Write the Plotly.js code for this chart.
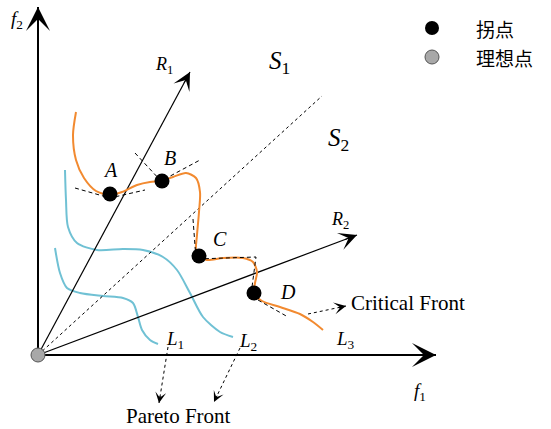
<!DOCTYPE html>
<html><head><meta charset="utf-8">
<script src="https://cdn.plot.ly/plotly-3.0.1.min.js"></script>
<style>html,body{margin:0;padding:0;background:#fff}</style>
</head><body><div id="chart" style="width:551px;height:429px"></div>
<script>
// ---- data (schematic coordinates: origin = ideal point) ----
const l3X = [38,35,38,46,58,72,84,99,112,123,135,148,158,162,161,159,158,161,169,185,205,215,219,217,216,224,242,262,275,285];
const l3Y = [243,220,195,177,164,160,163,170,173,174,178,182,177,163,143,120,105,99,95,97,97,93,83,72,62,54,48,41,33,25];
const l2X = [27,28,30,39,59,85,105,125,139,152,165,182,195];
const l2Y = [185,155,128,112,105,106,105,98,85,62,38,23,18];
const l1X = [17,22,29,42,65,85,95,100,104,112,120];
const l1Y = [107,82,67,62,59,57,52,38,25,15,11];
const tanAX = [37,72,107], tanAY = [167,157,165];
const tanBX = [97,123,162], tanBY = [202,174,195];
const tanCX = [155,158,218,214], tanCY = [136,96,98,68];
const tanDX = [220,250], tanDY = [55,38];
const kneeX = [72,124,161,216], kneeY = [161,174,99,62];
const kneeLabels = ['A','B','C','D'];
const kneeLabX = [72,132,182,250], kneeLabY = [185,197,116,63];
const idealX = [0], idealY = [0];
const axisF1 = [[0,0],[398,0]];
const axisF2 = [[0,0],[0,348]];
const rayR1 = [[0,0],[152,283]];
const rayR2 = [[0,0],[319,120]];
const diagS = [[0,0],[284,259]];
const paretoArrow1 = [[130,8],[121,-48]];
const paretoArrow2 = [[202,7],[176,-47]];
const criticalArrow = [[270,41],[308,49]];
const legendLabels = ['拐点','理想点'];
const legendY = [327, 298];

const ORANGE = '#F28A30', CYAN = '#70C1D4';
const SERIF = 'Liberation Serif, Times New Roman, serif';

function line(pts, opts){
  return {x: pts.map(p=>p[0]), y: pts.map(p=>p[1]), mode:'lines', hoverinfo:'skip',
          line: Object.assign({color:'#000', width:1}, opts)};
}
const traces = [
  {x:l1X, y:l1Y, mode:'lines', line:{color:CYAN, width:2, shape:'spline', smoothing:0.8}},
  {x:l2X, y:l2Y, mode:'lines', line:{color:CYAN, width:2, shape:'spline', smoothing:0.8}},
  line(diagS, {dash:'dot', width:1}),
  line(rayR1, {width:1.2}),
  line(rayR2, {width:1.2}),
  {x:l3X, y:l3Y, mode:'lines', line:{color:ORANGE, width:2, shape:'spline', smoothing:0.8}},
  {x:tanAX, y:tanAY, mode:'lines', line:{color:'#000', width:1, dash:'4px,3px'}},
  {x:tanBX, y:tanBY, mode:'lines', line:{color:'#000', width:1, dash:'4px,3px'}},
  {x:tanCX, y:tanCY, mode:'lines', line:{color:'#000', width:1, dash:'4px,3px'}},
  {x:tanDX, y:tanDY, mode:'lines', line:{color:'#000', width:1, dash:'4px,3px'}},
  line(paretoArrow1, {dash:'dot', width:1}),
  line(paretoArrow2, {dash:'dot', width:1}),
  line(criticalArrow, {dash:'dot', width:1}),
  line(axisF1, {width:2}),
  line(axisF2, {width:2}),
  {x:kneeX, y:kneeY, mode:'markers', marker:{color:'#000', size:15}},
  {x:idealX, y:idealY, mode:'markers', marker:{color:'#a8a8a8', size:14, line:{color:'#555', width:1}}},
  // legend markers
  {x:[394], y:[legendY[0]], mode:'markers', marker:{color:'#000', size:14}},
  {x:[394], y:[legendY[1]], mode:'markers', marker:{color:'#a8a8a8', size:14, line:{color:'#555', width:1}}}
];

function head(seg, w, size){
  const [x0,y0] = seg[0], [x1,y1] = seg[1];
  const dx = x1-x0, dy = y1-y0, L = Math.hypot(dx,dy);
  const len = 4*w*size*1.2;
  return {x:x1, y:y1, ax:x1-dx/L*len, ay:y1-dy/L*len, xref:'x', yref:'y', axref:'x', ayref:'y',
          text:'', showarrow:true, arrowhead:3, arrowwidth:w, arrowsize:size, arrowcolor:'#000', standoff:0};
}
function label(x, y, text, size, extra){
  return Object.assign({x:x, y:y, xref:'x', yref:'y', text:text, showarrow:false,
          font:{family:SERIF, size:size, color:'#000'}}, extra||{});
}
const annotations = [
  head(axisF1, 2, 2), head(axisF2, 2, 2),
  head(rayR1, 1, 3), head(rayR2, 1, 3),
  head(paretoArrow1, 1, 1.8), head(paretoArrow2, 1, 1.8), head(criticalArrow, 1, 2),
  label(-21, 335, '<i>f</i><sub>2</sub>', 19),
  label(382, -37, '<i>f</i><sub>1</sub>', 19),
  label(126, 290, '<i>R</i><sub>1</sub>', 18),
  label(302, 135, '<i>R</i><sub>2</sub>', 18),
  label(241, 293, '<i>S</i><sub>1</sub>', 25),
  label(300, 216, '<i>S</i><sub>2</sub>', 25),
  label(137, 15, '<i>L</i><sub>1</sub>', 19),
  label(210, 13, '<i>L</i><sub>2</sub>', 19),
  label(307, 15, '<i>L</i><sub>3</sub>', 19),
  label(140, -61, 'Pareto Front', 21),
  label(311, 52, 'Critical Front', 21, {xanchor:'left'})
];
kneeLabels.forEach((t,i)=>annotations.push(label(kneeLabX[i], kneeLabY[i], '<i>'+t+'</i>', 20)));
legendLabels.forEach((t,i)=>annotations.push({x:436, y:legendY[i], xref:'x', yref:'y', text:t, showarrow:false,
  xanchor:'left', font:{family:'Noto Sans CJK SC', size:19, color:'#000'}}));

const layout = {
  width:551, height:429, margin:{l:0,r:0,t:0,b:0},
  paper_bgcolor:'#fff', plot_bgcolor:'#fff', showlegend:false,
  xaxis:{range:[-38,513], visible:false, fixedrange:true},
  yaxis:{range:[-74,355], visible:false, fixedrange:true},
  annotations: annotations
};
Plotly.newPlot('chart', traces, layout, {staticPlot:true, displayModeBar:false});
</script>
</body></html>
